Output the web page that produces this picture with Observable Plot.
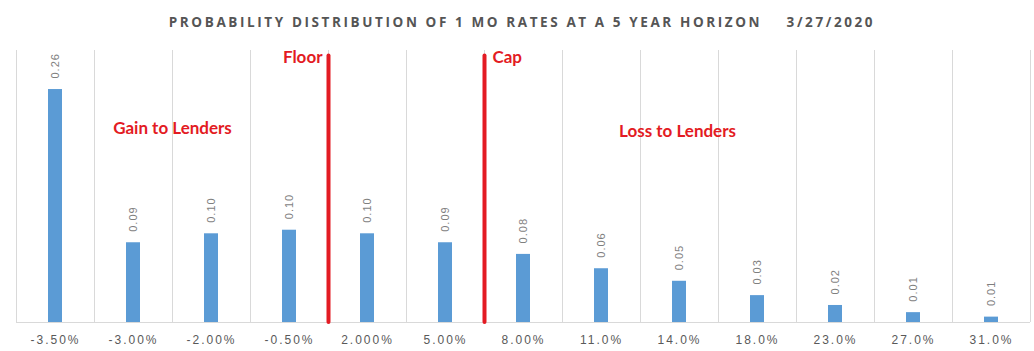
<!DOCTYPE html>
<html>
<head>
<meta charset="utf-8">
<script src="https://cdn.jsdelivr.net/npm/d3@7"></script>
<script src="https://cdn.jsdelivr.net/npm/@observablehq/plot@0.6"></script>
<style>
  html, body { margin: 0; padding: 0; background: #fff; }
  #title {
    height: 40px; box-sizing: border-box; padding-top: 13px;
    font-family: "Open Sans", sans-serif; font-weight: 700; font-size: 13.5px;
    letter-spacing: 2.6px; color: #555555; white-space: pre;
    text-align: center; padding-left: 10px;
  }
  svg g[aria-label="x-axis tick label"] text { letter-spacing: 2px; }
  svg .vlabel text { letter-spacing: 1px; }
</style>
</head>
<body>
<div id="title">PROBABILITY DISTRIBUTION OF 1 MO RATES AT A 5 YEAR HORIZON    3/27/2020</div>
<div id="chart"></div>
<script>
// Category tick labels (1-month rate at 5-year horizon)
const rates = ["-3.50%", "-3.00%", "-2.00%", "-0.50%", "2.000%", "5.00%", "8.00%", "11.0%", "14.0%", "18.0%", "23.0%", "27.0%", "31.0%"];
// Probabilities
const probs = [0.260, 0.089, 0.099, 0.103, 0.099, 0.089, 0.076, 0.060, 0.046, 0.030, 0.019, 0.011, 0.006];
// Floor / Cap boundaries: the category each red line sits just left of
const boundaryCats = ["2.000%", "8.00%"];
// Annotations
const noteText = ["Floor", "Cap", "Gain to Lenders", "Loss to Lenders"];

const data = rates.map((r, i) => ({rate: r, p: probs[i]}));

const W = 1034, H = 311;
const mL = 16, mR = 4, mT = 10, mB = 29;
const step = (W - mL - mR) / rates.length;
const yMax = (H - mT - mB) / 896;

const notes = [
  {x: boundaryCats[0], y: 0.2958, t: noteText[0], dx: -step / 2 - 6},
  {x: boundaryCats[1], y: 0.2958, t: noteText[1], dx: -step / 2 + 8},
  {x: rates[2], y: 0.2165, t: noteText[2], dx: -step / 2},
  {x: rates[8], y: 0.2130, t: noteText[3], dx: -2}
];
const noteStyle = {x: "x", y: "y", text: "t", fill: "#e31b23", fontSize: 17, fontWeight: 700, fontFamily: "Lato, sans-serif"};

const chart = Plot.plot({
  width: W, height: H,
  marginLeft: mL, marginRight: mR, marginTop: mT, marginBottom: mB,
  style: {fontFamily: "'Liberation Sans', Arial, sans-serif", background: "#fff"},
  x: {domain: rates, padding: 0, label: null},
  y: {domain: [0, yMax], axis: null},
  marks: [
    Plot.ruleX(rates, {x: d => d, dx: -step / 2, stroke: "#d9d9d9", strokeWidth: 1}),
    Plot.ruleX([rates[rates.length - 1]], {x: d => d, dx: step / 2, stroke: "#d9d9d9", strokeWidth: 1}),
    Plot.ruleY([0], {stroke: "#d9d9d9", strokeWidth: 1}),
    Plot.barY(data, {x: "rate", y: "p", fill: "#5b9bd5", insetLeft: 32, insetRight: 32}),
    Plot.text(data, {
      x: "rate", y: "p", text: d => d.p.toFixed(2), rotate: -90,
      textAnchor: "start", lineAnchor: "middle", dy: -11,
      fill: "#7f7f7f", fontSize: 11, className: "vlabel"
    }),
    Plot.ruleX(boundaryCats, {
      x: d => d, dx: -step / 2, y1: 0, y2: 0.2975,
      stroke: "#e31b23", strokeWidth: 4, strokeLinecap: "round"
    }),
    Plot.text([notes[0]], {...noteStyle, textAnchor: "end", dx: notes[0].dx}),
    Plot.text([notes[1]], {...noteStyle, textAnchor: "start", dx: notes[1].dx}),
    Plot.text([notes[2]], {...noteStyle, dx: notes[2].dx}),
    Plot.text([notes[3]], {...noteStyle, dx: notes[3].dx}),
    Plot.axisX({tickSize: 0, tickPadding: 13, fontSize: 12, fill: "#595959", label: null})
  ]
});
document.getElementById("chart").appendChild(chart);
</script>
</body>
</html>
